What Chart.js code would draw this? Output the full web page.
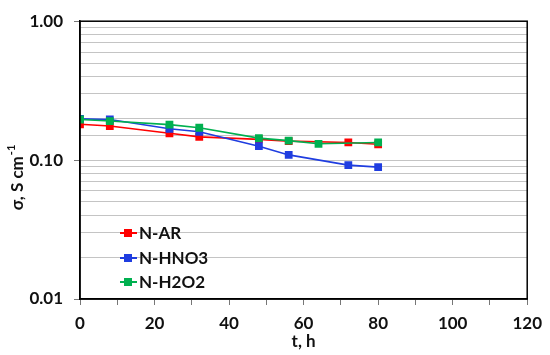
<!DOCTYPE html>
<html lang="en">
<head>
<meta charset="UTF-8">
<title>Conductivity vs time</title>
<script src="https://cdn.jsdelivr.net/npm/chart.js"></script>
<style>
  body { margin: 0; background: #fff; }
  #chart { display: block; }
</style>
</head>
<body>
<canvas id="chart" width="550" height="355"></canvas>
<script>
// data
const seriesNames = ['N-AR', 'N-HNO3', 'N-H2O2'];
const timeAR    = [0, 8, 24, 32, 48, 56, 72, 80];
const sigmaAR   = [0.181, 0.176, 0.156, 0.147, 0.141, 0.137, 0.134, 0.130];
const timeHNO3  = [0, 8, 24, 32, 48, 56, 72, 80];
const sigmaHNO3 = [0.198, 0.196, 0.168, 0.160, 0.126, 0.109, 0.092, 0.089];
const timeH2O2  = [0, 8, 24, 32, 48, 56, 64, 80];
const sigmaH2O2 = [0.196, 0.191, 0.180, 0.171, 0.144, 0.138, 0.131, 0.134];

const colors = ['#ff0000', '#1f3de0', '#00b050'];
const FONT = 'Lato, "DejaVu Sans", sans-serif';

function pts(xs, ys) {
  return xs.map((x, i) => ({ x: x, y: ys[i] }));
}

function isDecade(v) {
  const l = Math.log10(v);
  return Math.abs(l - Math.round(l)) < 1e-6;
}

// box round the plot, legend inside it, y title with superscript
const extras = {
  id: 'extras',
  afterDraw(chart) {
    const ctx = chart.ctx;
    const a = chart.chartArea;
    ctx.save();
    ctx.strokeStyle = '#000';
    ctx.lineWidth = 1.5;
    ctx.strokeRect(a.left, a.top, a.right - a.left, a.bottom - a.top);

    // legend
    ctx.font = 'bold 17px ' + FONT;
    ctx.textBaseline = 'middle';
    ctx.textAlign = 'left';
    const rows = [233, 258, 282];
    chart.data.datasets.forEach((ds, i) => {
      const y = rows[i];
      ctx.strokeStyle = ds.borderColor;
      ctx.lineWidth = 2;
      ctx.beginPath();
      ctx.moveTo(120, y);
      ctx.lineTo(137, y);
      ctx.stroke();
      ctx.fillStyle = ds.backgroundColor;
      ctx.fillRect(124, y - 4, 8, 8);
      ctx.fillStyle = '#111';
      ctx.fillText(ds.label, 139, y + 1);
    });

    // y axis title
    ctx.translate(16, 178);
    ctx.rotate(-Math.PI / 2);
    ctx.fillStyle = '#111';
    const main = 'σ, S cm';
    const sup = '-1';
    ctx.font = 'bold 17px ' + FONT;
    const w1 = ctx.measureText(main).width;
    ctx.font = 'bold 11px ' + FONT;
    const w2 = ctx.measureText(sup).width;
    const start = -(w1 + w2) / 2;
    ctx.font = 'bold 17px ' + FONT;
    ctx.fillText(main, start, 2);
    ctx.font = 'bold 11px ' + FONT;
    ctx.fillText(sup, start + w1 + 1, -5);
    ctx.restore();
  }
};

new Chart(document.getElementById('chart'), {
  type: 'line',
  data: {
    datasets: [
      { label: seriesNames[0], data: pts(timeAR, sigmaAR), order: 3 },
      { label: seriesNames[1], data: pts(timeHNO3, sigmaHNO3), order: 2 },
      { label: seriesNames[2], data: pts(timeH2O2, sigmaH2O2), order: 1 }
    ].map((d, i) => Object.assign(d, {
      borderColor: colors[i],
      backgroundColor: colors[i],
      borderWidth: 1.6,
      pointStyle: 'rect',
      pointRadius: 5.5,
      pointBorderWidth: 0,
      tension: 0
    }))
  },
  options: {
    responsive: false,
    animation: false,
    layout: { padding: { left: 0, top: 16, right: 20, bottom: 0 } },
    plugins: { legend: { display: false }, tooltip: { enabled: false } },
    scales: {
      x: {
        type: 'linear',
        min: 0,
        max: 120,
        afterFit(s) { s.height = 56; },
        ticks: {
          stepSize: 10,
          autoSkip: false,
          maxRotation: 0,
          padding: 8,
          color: '#111',
          font: { family: FONT, size: 17, weight: 'bold' },
          callback: v => (v % 20 === 0 ? String(v) : '')
        },
        grid: {
          drawOnChartArea: false,
          tickLength: 6,
          tickColor: '#777'
        },
        border: { color: '#000', width: 1.5 },
        title: {
          display: true,
          text: 't, h',
          color: '#111',
          padding: { top: 0, bottom: 3 },
          font: { family: FONT, size: 17, weight: 'bold' }
        }
      },
      y: {
        type: 'logarithmic',
        min: 0.01,
        max: 1,
        afterFit(s) { s.width = 80; },
        ticks: {
          autoSkip: false,
          padding: 11,
          color: '#111',
          font: { family: FONT, size: 17, weight: 'bold' },
          callback: v => (isDecade(v) ? Number(v).toFixed(2) : '')
        },
        grid: {
          color: '#c4c4c4',
          lineWidth: 1,
          tickLength: 6,
          tickColor: c => (c.tick && isDecade(c.tick.value) ? '#777' : 'rgba(0,0,0,0)')
        },
        border: { color: '#000', width: 1.5 }
      }
    }
  },
  plugins: [extras]
});
</script>
</body>
</html>
